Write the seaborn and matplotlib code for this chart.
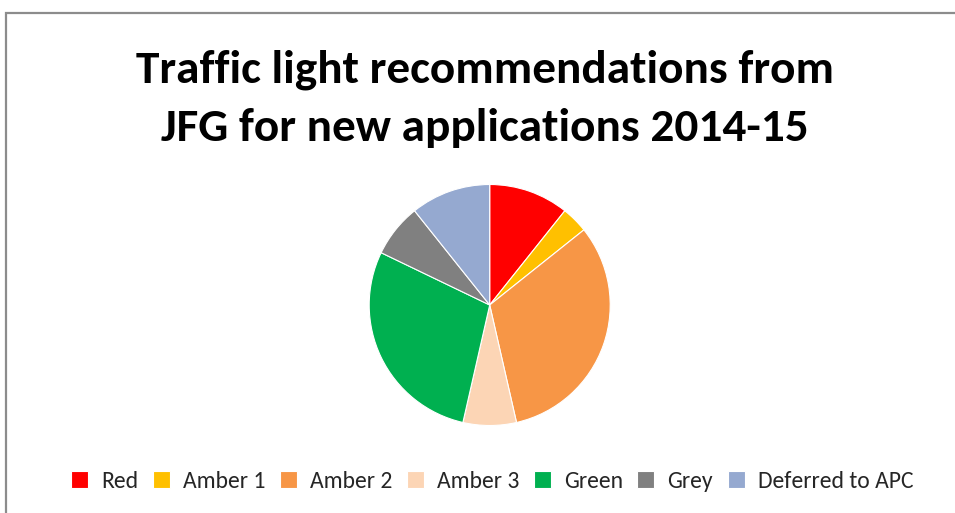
import matplotlib
matplotlib.use("Agg")
import matplotlib.pyplot as plt
from matplotlib import font_manager
from matplotlib.patches import Rectangle
import seaborn as sns

# Recommendation counts by traffic-light category
categories = ["Red", "Amber 1", "Amber 2", "Amber 3", "Green", "Grey", "Deferred to APC"]
counts = [3, 1, 9, 2, 8, 2, 3]
colors = ["#FF0000", "#FFC000", "#F79646", "#FCD5B5", "#00B050", "#808080", "#95A9D0"]
title_lines = ["Traffic light recommendations from", "JFG for new applications 2014-15"]

sns.set_theme(style="white")

available = {f.name for f in font_manager.fontManager.ttflist}
family = next((f for f in ["Carlito", "Lato", "Open Sans", "DejaVu Sans"] if f in available), "DejaVu Sans")
plt.rcParams["font.family"] = [family, "DejaVu Sans"]

W, H = 955, 513
fig = plt.figure(figsize=(W / 100, H / 100), dpi=100)
fig.patch.set_facecolor("white")

# chart frame (runs off the right and bottom edges)
fig.patches.append(Rectangle((6 / W, -0.05), 1.2, (500 / H) + 0.05, transform=fig.transFigure,
                             fill=False, edgecolor="#8C8C8C", linewidth=1.6))

cx, cy, r = 489.7, 305, 120.5
ax = fig.add_axes([(cx - r) / W, (H - cy - r) / H, 2 * r / W, 2 * r / H])
wedges, _ = ax.pie(counts, colors=colors, startangle=90, counterclock=False,
                   wedgeprops=dict(edgecolor="white", linewidth=0.8))
ax.set_xlim(-1, 1)
ax.set_ylim(-1, 1)
ax.axis("off")

fig.text(485 / W, (H - 82) / H, title_lines[0], ha="center", va="baseline",
         fontsize=34, fontweight="bold", color="black")
fig.text(485 / W, (H - 141) / H, title_lines[1], ha="center", va="baseline",
         fontsize=34, fontweight="bold", color="black")

fig.legend(wedges, categories, loc="center", bbox_to_anchor=(492 / W, (H - 481) / H),
           ncol=7, frameon=False, fontsize=17, handlelength=0.72, handleheight=0.72,
           handletextpad=0.55, columnspacing=0.62, borderpad=0)

fig.savefig("out.png", dpi=100)
